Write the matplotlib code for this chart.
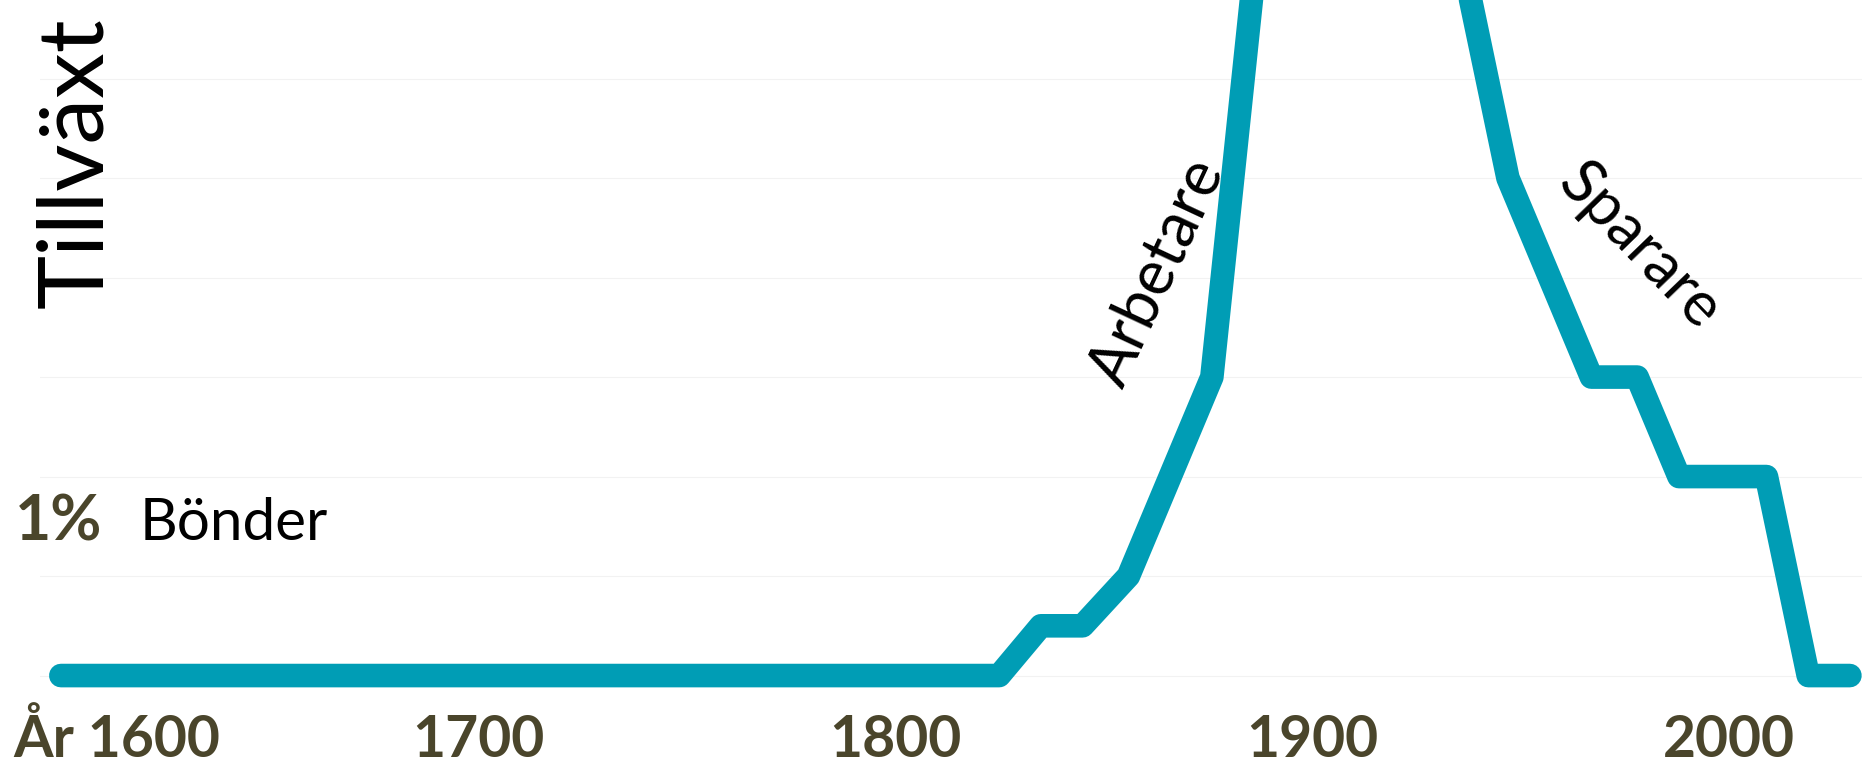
import matplotlib
matplotlib.use("Agg")
import matplotlib.pyplot as plt

plt.rcParams['font.family'] = ['Lato', 'DejaVu Sans']

# --- Data (läst från bilden) ---
years = [1600, 1825, 1835, 1845, 1856, 1876, 1903, 1947, 1967, 1978, 1988, 2009, 2019, 2029]
growth = [0, 0, 0.5, 0.5, 1, 3, 13.8, 5, 3, 3, 2, 2, 0, 0]
tick_years = [1600, 1700, 1800, 1900, 2000]
tick_labels = ['År 1600', '1700', '1800', '1900', '2000']
grid_levels = [0, 1, 2, 3, 4, 5, 6]

TEAL = '#009db5'
OLIVE = '#4a452b'

W, H = 1862, 769
fig = plt.figure(figsize=(W / 100, H / 100), dpi=100)
ax = fig.add_axes([40 / W, 1 - 705.4 / H, 1 - 40 / W, 705.4 / H])

ax.plot(years, growth, color=TEAL, lw=17,
        solid_capstyle='round', solid_joinstyle='round')

ax.set_xlim(1595, 2031.9)
ax.set_ylim(-0.3, 6.79)
ax.set_yticks(grid_levels)
ax.grid(axis='y', color='#f2f2f2', lw=0.8)
ax.grid(axis='x', visible=False)
ax.set_axisbelow(True)
ax.tick_params(length=0, labelleft=False, labelbottom=False)
for s in ax.spines.values():
    s.set_visible(False)

# årtal under kurvan
for yr, lab in zip(tick_years, tick_labels):
    first = yr == tick_years[0]
    ax.annotate(lab, xy=(yr, 0), xycoords=('data', 'axes fraction'),
                xytext=(-48 if first else 0, -52), textcoords='offset pixels',
                ha='left' if first else 'center', va='baseline',
                fontsize=41, fontweight='bold', color=OLIVE)

# etiketter
ax.text(1589, 1.36, '1%', ha='left', va='baseline', fontsize=45,
        fontweight='bold', color=OLIVE)
ax.text(1619, 1.36, 'Bönder', ha='left', va='baseline', fontsize=42, color='black')
ax.text(1863, 4.05, 'Arbetare', rotation=65, rotation_mode='anchor',
        ha='center', va='center', fontsize=45, color='black')
ax.text(1978.7, 4.31, 'Sparare', rotation=-46, rotation_mode='anchor',
        ha='center', va='center', fontsize=44, color='black')

fig.text(102 / W, 1 - 163 / H, 'Tillväxt', rotation=90, rotation_mode='anchor',
         ha='center', va='baseline', fontsize=66, color='black')

fig.savefig('out.png', dpi=100)
